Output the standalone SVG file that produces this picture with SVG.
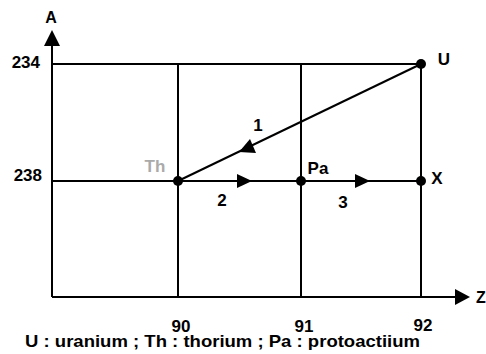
<svg xmlns="http://www.w3.org/2000/svg" width="486" height="354" viewBox="0 0 486 354">
<style>
.ln{stroke:#000;stroke-width:2;fill:none}
.t{font-family:"Liberation Sans",Arial,sans-serif;font-weight:bold;font-size:17px;fill:#000}
.dot{fill:#000}
</style>
<rect width="486" height="354" fill="#fff"/>
<g id="grid">
<line class="ln" x1="52" y1="64" x2="421" y2="64"/>
<line class="ln" x1="52" y1="181" x2="421" y2="181"/>
<line class="ln" x1="178" y1="64" x2="178" y2="297"/>
<line class="ln" x1="301" y1="64" x2="301" y2="297"/>
<line class="ln" x1="421" y1="64" x2="421" y2="297"/>
</g>
<g id="axes">
<line class="ln" x1="52" y1="297" x2="52" y2="44"/>
<polygon points="52,30 44,46 60,46" fill="#000"/>
<line class="ln" x1="52" y1="297" x2="456" y2="297"/>
<polygon points="470,297 455,289 455,305" fill="#000"/>
<text class="t" x="51" y="23" text-anchor="middle" style="font-size:16px">A</text>
<text class="t" x="476" y="303" style="font-size:16px">Z</text>
<text class="t" x="40" y="68" text-anchor="end">234</text>
<text class="t" x="42" y="181" text-anchor="end">238</text>
<text class="t" x="181" y="332" text-anchor="middle">90</text>
<text class="t" x="304" y="332" text-anchor="middle">91</text>
<text class="t" x="423" y="331" text-anchor="middle">92</text>
</g>
<g id="connectors">
<line class="ln" x1="421" y1="64" x2="178" y2="181"/>
<polygon points="239,152 256,153 250,139" fill="#000"/>
<polygon points="252,181 237,174 237,188" fill="#000"/>
<polygon points="370,181 355,174 355,188" fill="#000"/>
<text class="t" x="258" y="131" text-anchor="middle">1</text>
<text class="t" x="222" y="206" text-anchor="middle">2</text>
<text class="t" x="343" y="208" text-anchor="middle">3</text>
</g>
<g id="U"><circle class="dot" cx="421" cy="64" r="5"/><text class="t" x="444" y="65" text-anchor="middle">U</text></g>
<g id="Th"><circle class="dot" cx="178" cy="181" r="5"/><text class="t" x="155" y="172" text-anchor="middle" style="fill:#aaa">Th</text></g>
<g id="Pa"><circle class="dot" cx="301" cy="181" r="5"/><text class="t" x="318" y="174" text-anchor="middle">Pa</text></g>
<g id="X"><circle class="dot" cx="421" cy="181" r="5"/><text class="t" x="437" y="184" text-anchor="middle">X</text></g>
<text class="t" x="25" y="347" textLength="395" lengthAdjust="spacingAndGlyphs">U : uranium ; Th : thorium ; Pa : protoactiium</text>
</svg>
